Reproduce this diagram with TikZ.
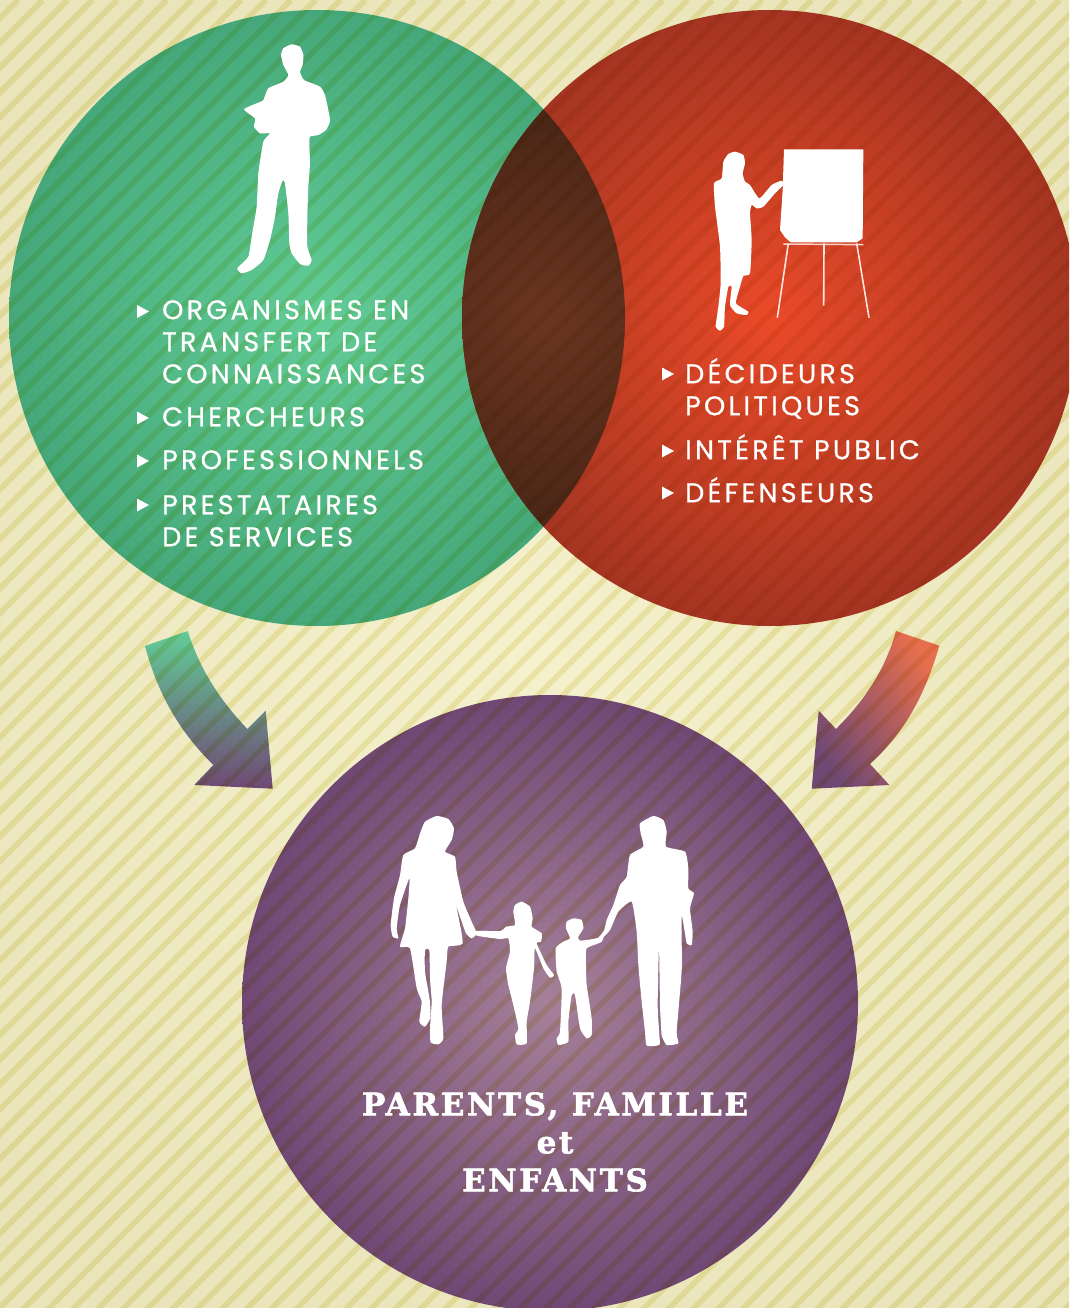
\documentclass[tikz,border=0pt]{standalone}
\usepackage{fontspec}
\newfontfamily\listfont{Poppins}[LetterSpace=12,FakeBold=0.8]
\newfontfamily\titlefont{DejaVu Serif}[LetterSpace=8.5,FakeBold=1.8]
\definecolor{paper}{HTML}{F5F1CD}
\definecolor{paperedge}{HTML}{E9E4B9}
\definecolor{greenmid}{HTML}{62CC97}
\definecolor{greenedge}{HTML}{46A87A}
\definecolor{redmid}{HTML}{EA4A29}
\definecolor{rededge}{HTML}{A43522}
\definecolor{plummid}{HTML}{A68199}
\definecolor{plumedge}{HTML}{6F4974}
\definecolor{lensmid}{HTML}{6B3520}
\definecolor{lensedge}{HTML}{472516}
\definecolor{stripe}{HTML}{F3F0CC}
\definecolor{arrowred}{HTML}{E66F4E}
\newcommand{\bulletmark}[2]{% x of left side, y of tip
\fill[white] (#1,#2-6.5) -- (#1+12,#2) -- (#1,#2+6.5) -- cycle;
}
\tikzset{
  listtext/.style={anchor=north west, inner sep=0pt, align=left, text=white,
    font=\listfont\fontsize{27}{32}\selectfont},
  titletext/.style={inner sep=0pt, align=center, text=white,
    font=\titlefont\bfseries\fontsize{31}{38}\selectfont},
  stripeline/.style={stripe, line width=5.6pt, blend mode=multiply},
}
\begin{document}
\begin{tikzpicture}[x=1pt, y=-1pt]
\useasboundingbox (0,0) rectangle (1069,1308);
\clip (0,0) rectangle (1069,1308);
\shade [inner color=paper, outer color=paperedge] (-200,-100) rectangle (1269,1408);
% the three circles
\shade [inner color=greenmid, outer color=greenedge] (317,318) circle (308);
\shade [inner color=redmid, outer color=rededge] (770,318) circle (308);
\shade [inner color=plummid, outer color=plumedge] (550,1003) circle (308);
\begin{scope}
\clip (317,318) circle (308);
\clip (770,318) circle (308);
\shade [inner color=lensmid, outer color=lensedge] (543,318) circle (225);
\end{scope}
% arrows
\shade [top color=greenmid, bottom color=plumedge]
  (145,646) -- (187.7,631) .. controls (200,670) and (220,700) .. (247.3,729)
  -- (265.7,710.7) -- (272.7,788.7) -- (194.3,785) -- (213.3,765)
  .. controls (180,732) and (158,695) .. cycle;
\shade [top color=arrowred, bottom color=plumedge, shading angle=-55]
  (896,631) -- (939.3,645.7) .. controls (925,695) and (905,732) .. (870,764)
  -- (889.3,785) -- (811.7,788.7) -- (818.7,710.7) -- (836,729)
  .. controls (865,700) and (885,670) .. cycle;
% stripes on top of everything so far
\foreach \k in {0,...,100}
{   \draw [stripeline] ({\k*24.8+18},0) -- ++(-1400,1400);
}
% man
\begin{scope}[shift={(220,30)}, scale=1/3]
\fill [white] plot [smooth cycle, tension=.3] coordinates {
 (215,43) (240,50) (250,75) (248,105) (240,125) (252,150) (300,170) (315,195)
 (328,255) (330,275) (318,300) (295,315) (270,320) (268,345) (270,400) (265,470)
 (262,560) (262,650) (275,690) (265,707) (240,702) (215,670) (208,640) (205,550)
 (195,460) (188,452) (175,490) (165,560) (150,630) (130,690) (95,720) (65,730)
 (52,715) (85,680) (95,620) (110,530) (115,430) (130,335) (150,310) (120,310)
 (102,290) (105,265) (72,238) (115,218) (130,210) (145,175) (190,155) (205,135)
 (190,105) (183,75) (190,55)};
\end{scope}
% woman and flip chart
\begin{scope}[shift={(700,140)}, scale=1/3]
\fill [white] plot [smooth cycle, tension=.3] coordinates {
 (105,35) (130,45) (135,70) (128,100) (135,125) (150,135) (178,175) (215,135)
 (245,122) (250,135) (225,160) (190,200) (170,205) (155,195) (150,220) (155,300)
 (150,400) (130,408) (120,440) (108,490) (145,515) (140,525) (110,520) (90,495)
 (95,440) (85,440) (75,500) (72,560) (60,572) (47,560) (55,500) (62,430) (60,320)
 (45,200) (42,130) (65,115) (70,65) (85,42)};
\fill [white] (252,28) -- (490,28) -- (488,295) -- (470,307) -- (272,307)
  -- (255,292) -- (240,270) -- (248,150) -- cycle;
\draw [white!75!redmid, line width=1.5pt] (250,312) -- (490,314);
\draw [white!85!redmid, line width=1.6pt] (265,310) -- (232,533);
\draw [white!85!redmid, line width=1.6pt] (372,310) -- (371,497);
\draw [white!85!redmid, line width=1.6pt] (470,310) -- (507,533);
\end{scope}
% family
\begin{scope}[shift={(380,805)}, scale=1/3]
\fill [white] plot [smooth cycle, tension=.3] coordinates { % mother
 (170,33) (205,42) (222,70) (215,105) (195,140) (225,155) (230,200) (250,290)
 (275,350) (290,385) (275,400) (258,385) (240,335) (208,240) (230,310) (248,415)
 (205,425) (200,470) (185,600) (190,700) (175,718) (152,712) (150,670) (155,590)
 (150,520) (148,435) (135,435) (135,500) (150,590) (150,640) (135,665) (118,650)
 (125,590) (110,550) (90,430) (60,425) (75,370) (85,280) (88,220) (60,300) (50,370)
 (55,400) (38,395) (32,360) (42,280) (60,210) (70,150) (105,130) (120,85) (135,50)};
\fill [white] plot [smooth cycle, tension=.3] coordinates { % girl
 (425,290) (450,305) (458,340) (455,365) (485,385) (483,410) (470,415) (500,480)
 (522,510) (510,518) (490,490) (465,430) (462,490) (450,590) (440,650) (440,715)
 (410,718) (405,690) (415,670) (400,600) (385,540) (378,490) (390,440) (385,400)
 (360,402) (290,392) (288,378) (362,378) (378,365) (405,360) (400,320) (405,300)};
\fill [white] plot [smooth cycle, tension=.3] coordinates { % boy
 (580,340) (605,345) (610,370) (595,395) (600,407) (655,398) (680,365) (665,410)
 (620,430) (618,480) (620,540) (635,640) (635,690) (620,700) (600,670) (585,570)
 (575,570) (565,650) (565,710) (535,720) (530,700) (540,680) (545,550) (530,500)
 (527,430) (550,410) (570,400) (558,370) (560,350)};
\fill [white] plot [smooth cycle, tension=.3] coordinates { % father
 (820,33) (850,45) (860,80) (858,125) (915,140) (925,190) (925,250) (942,265)
 (930,310) (938,380) (935,420) (920,415) (915,385) (905,330) (905,400) (905,500)
 (890,680) (895,715) (860,720) (845,690) (840,600) (837,420) (833,600) (838,690)
 (838,720) (800,722) (795,680) (785,590) (775,480) (770,380) (755,290) (715,320)
 (690,375) (670,395) (680,345) (700,300) (720,240) (740,215) (750,150) (790,125)
 (782,85) (780,55)};
\end{scope}
% left list
\bulletmark{137}{311.5}
\bulletmark{137}{418}
\bulletmark{137}{461}
\bulletmark{137}{505}
\node [listtext] (organismes) at (162,300) {ORGANISMES EN\\TRANSFERT DE\\CONNAISSANCES};
\node [listtext] (chercheurs) at (162,407) {CHERCHEURS};
\node [listtext] (professionnels) at (162,450) {PROFESSIONNELS};
\node [listtext] (prestataires) at (162,495) {PRESTATAIRES\\DE SERVICES};
% right list
\bulletmark{662}{374}
\bulletmark{662}{451}
\bulletmark{662}{493}
\node [listtext] (decideurs) at (685,358) {DÉCIDEURS\\POLITIQUES};
\node [listtext] (interet) at (685,434) {INTÉRÊT PUBLIC};
\node [listtext] (defenseurs) at (685,477) {DÉFENSEURS};
% title
\node [titletext] (familles) at (555,1142) {PARENTS, FAMILLE\\et\\ENFANTS};
\end{tikzpicture}
\end{document}
